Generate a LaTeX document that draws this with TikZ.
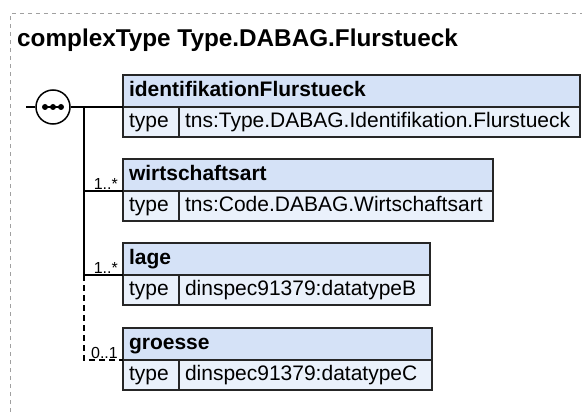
\documentclass[tikz,border=0pt]{standalone}
\usepackage{fontspec}
\setmainfont{Liberation Sans}
\usetikzlibrary{positioning}
\definecolor{headblue}{HTML}{D5E2F7}
\definecolor{rowblue}{HTML}{EAF1FB}
\definecolor{framegray}{HTML}{A0A0A0}
\begin{document}
\begin{tikzpicture}[x=1pt,y=-1pt,
        box/.style={draw=black!85,line width=1.5pt,anchor=north west,outer sep=0pt,inner xsep=6pt,inner ysep=0pt,text height=15pt,text depth=4pt,align=left,font=\fontsize{21}{24}\selectfont},
        head/.style={box,fill=headblue,minimum height=32pt,text width=#1,font=\fontsize{21}{24}\selectfont\bfseries},
        key/.style={box,fill=rowblue,minimum height=30pt,text width=44pt},
        val/.style={box,fill=rowblue,minimum height=30pt,text width=#1},
        card/.style={anchor=south east,inner sep=1pt,font=\fontsize{16}{18}\selectfont},
        link/.style={line width=1.5pt}]
        \useasboundingbox (0,0) rectangle (582,412);
        \draw[draw=framegray,line width=1pt,dash pattern=on 4pt off 4pt] (10,412) -- (10,14) -- (582,14);
        \node[anchor=base west,inner sep=0pt,font=\fontsize{24.3}{28}\selectfont\bfseries] (title) at (17,46.7) {complexType Type.DABAG.Flurstueck};
        \node[head=445pt] (ident) at (123,75) {identifikationFlurstueck};
        \node[key] (identkey) at (ident.south west) {type};
        \node[val=389pt] (identval) at (identkey.north east) {tns:Type.DABAG.Identifikation.Flurstueck};
        \node[head=358pt] (wirt) at (123,159) {wirtschaftsart};
        \node[key] (wirtkey) at (wirt.south west) {type};
        \node[val=302pt] (wirtval) at (wirtkey.north east) {tns:Code.DABAG.Wirtschaftsart};
        \node[head=295pt] (lage) at (123,243) {lage};
        \node[key] (lagekey) at (lage.south west) {type};
        \node[val=239pt] (lageval) at (lagekey.north east) {dinspec91379:datatypeB};
        \node[head=297pt] (groesse) at (123,328) {groesse};
        \node[key] (groessekey) at (groesse.south west) {type};
        \node[val=241pt] (groesseval) at (groessekey.north east) {dinspec91379:datatypeC};
        \node[draw,circle,line width=1.5pt,minimum size=34pt,inner sep=0pt,fill=white] (seq) at (53,107) {};
        \draw[link] ([xshift=-10pt]seq.center) -- ([xshift=10pt]seq.center);
        \foreach \dx in {-8,0,8}
          \fill ([xshift=\dx pt]seq.center) circle (3pt);
        \coordinate (start) at (26,107);
        \coordinate (split) at (84,107);
        \draw[link] (start) -- (seq);
        \draw[link] (seq) -- (ident.south west);
        \draw[link] (split) |- (wirt.south west);
        \draw[link] (split) |- (lage.south west);
        \draw[link,dash pattern=on 6pt off 4pt] (split |- lage.south west) |- (groesse.south west);
        \node[card] (wirtcard) at ([xshift=-4pt]wirt.south west) {1..*};
        \node[card] (lagecard) at ([xshift=-4pt]lage.south west) {1..*};
        \node[card] (groessecard) at ([xshift=-4pt]groesse.south west) {0..1};
\end{tikzpicture}
\end{document}
